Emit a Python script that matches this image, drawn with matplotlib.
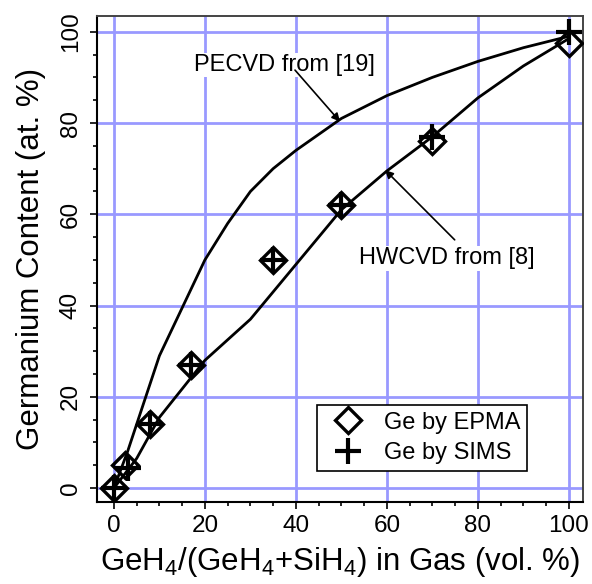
import numpy as np
import matplotlib
matplotlib.use("Agg")
import matplotlib.pyplot as plt
from matplotlib.ticker import MultipleLocator

plt.rcParams['font.family'] = ['Liberation Sans', 'DejaVu Sans']
plt.rcParams['mathtext.fontset'] = 'custom'
plt.rcParams['mathtext.rm'] = 'Liberation Sans'
plt.rcParams['mathtext.it'] = 'Liberation Sans'
plt.rcParams['mathtext.default'] = 'regular'

# literature curves
pecvd_x = [0, 3, 5, 10, 20, 25, 30, 35, 40, 50, 60, 70, 80, 90, 100]
pecvd_y = [0, 8, 14, 29, 50, 58, 65, 70, 74, 81, 86, 90, 93.5, 96.5, 99]
hwcvd_x = [0, 5, 10, 20, 30, 40, 50, 60, 70, 80, 90, 100]
hwcvd_y = [0, 6.5, 15.5, 28, 37, 49, 61, 69.5, 77, 85.5, 92.5, 98.5]

# measured Ge content
epma_x = [0, 2.5, 8, 17, 35, 50, 70, 100]
epma_y = [0, 5, 14, 27, 50, 62, 76, 97.5]
sims_x = [0, 3, 8, 17, 35, 50, 70, 100]
sims_y = [0, 4.5, 14, 27, 50, 62, 77, 100]

fig = plt.figure(figsize=(5.92, 5.84), dpi=100)
ax = fig.add_axes([0.164, 0.140, 0.820, 0.833])

ax.plot(pecvd_x, pecvd_y, color='black', lw=2, zorder=3)
ax.plot(hwcvd_x, hwcvd_y, color='black', lw=2, zorder=3)
ax.plot(epma_x, epma_y, ls='none', marker='D', ms=13, mfc='none', mec='black',
        mew=2.4, label='Ge by EPMA', zorder=4)
ax.plot(sims_x, sims_y, ls='none', marker='+', ms=19, mec='black',
        mew=3, label='Ge by SIMS', zorder=4)

ax.set_xlim(-3.7, 103)
ax.set_ylim(-3.1, 103.5)
ax.xaxis.set_major_locator(MultipleLocator(20))
ax.yaxis.set_major_locator(MultipleLocator(20))
ax.xaxis.set_minor_locator(MultipleLocator(5))
ax.yaxis.set_minor_locator(MultipleLocator(5))
ax.tick_params(which='major', direction='out', length=5, width=1.2,
               labelsize=17.5, pad=4)
ax.tick_params(which='minor', direction='out', length=3, width=1.2)
ax.tick_params(axis='y', labelrotation=90, pad=6)
for lab in ax.get_yticklabels():
    lab.set_va('center')
ax.grid(True, which='major', color='#9999ff', lw=2, zorder=0)

for s in ['left', 'bottom']:
    ax.spines[s].set_linewidth(1.5)
for s in ['top', 'right']:
    ax.spines[s].set_color('#444444')
    ax.spines[s].set_linewidth(1.4)

ax.set_xlabel('GeH$_4$/(GeH$_4$+SiH$_4$) in Gas (vol. %)', fontsize=22.5, labelpad=6)
ax.set_ylabel('Germanium Content (at. %)', fontsize=22.5, labelpad=10)

arrow = dict(arrowstyle='-|>', color='black', lw=1.2, mutation_scale=12,
             shrinkA=0, shrinkB=0)
ax.annotate('', xy=(49.7, 80.3), xytext=(39.8, 91.6), arrowprops=arrow, zorder=5)
ax.annotate('', xy=(59.6, 69.7), xytext=(74.9, 54.4), arrowprops=arrow, zorder=5)
ax.text(37.4, 92.7, 'PECVD from [19]', fontsize=17, ha='center', va='center',
        bbox=dict(fc='white', ec='none', pad=1), zorder=2)
ax.text(73.1, 50.4, 'HWCVD from [8]', fontsize=17, ha='center', va='center',
        bbox=dict(fc='white', ec='none', pad=1), zorder=2)

leg = ax.legend(loc='lower right', bbox_to_anchor=(0.886, 0.064), fontsize=17,
                frameon=True, fancybox=False, edgecolor='black', framealpha=1,
                borderpad=0.3, handlelength=2.0, handletextpad=0.5,
                labelspacing=0.35, borderaxespad=0)
leg.get_frame().set_linewidth(1.2)
leg.set_zorder(6)

fig.savefig('out.png', dpi=100)
